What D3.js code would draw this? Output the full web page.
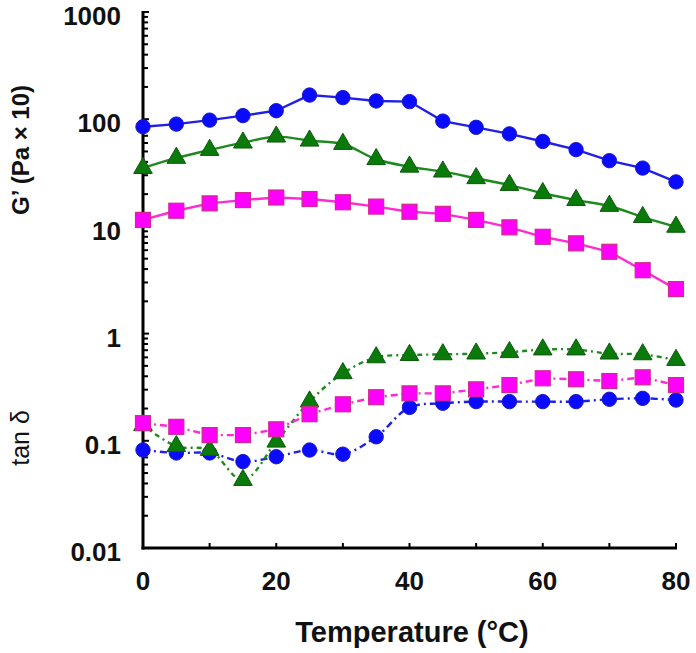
<!DOCTYPE html>
<html>
<head>
<meta charset="utf-8">
<script src="https://cdn.jsdelivr.net/npm/d3@7"></script>
<style>
  html, body { margin: 0; padding: 0; background: #fff; }
  svg { display: block; font-family: "Liberation Sans", Arial, sans-serif; }
</style>
</head>
<body>
<svg id="chart" width="696" height="653"></svg>
<script>
// ---- Data ----
const temperatures = [0, 5, 10, 15, 20, 25, 30, 35, 40, 45, 50, 55, 60, 65, 70, 75, 80];

const gBlue    = [85, 90, 98, 108, 120, 168, 159, 148, 146, 96, 84, 73, 62, 52, 41, 35, 26];
const gGreen   = [35, 43.5, 51.6, 60.4, 68.7, 63, 58.7, 42.3, 36, 32.4, 28.1, 24.3, 20.4, 17.6, 15.5, 12.2, 9.9];
const gMagenta = [11.5, 14, 16.4, 17.6, 18.6, 18.0, 16.8, 15.3, 13.7, 13.1, 11.5, 9.8, 8.0, 6.95, 5.8, 3.9, 2.6];

const tanBlue    = [0.082, 0.077, 0.077, 0.064, 0.071, 0.082, 0.075, 0.109, 0.205, 0.224, 0.232, 0.232, 0.232, 0.232, 0.244, 0.249, 0.24];
const tanGreen   = [0.14, 0.089, 0.082, 0.043, 0.098, 0.232, 0.426, 0.60, 0.63, 0.64, 0.65, 0.67, 0.71, 0.71, 0.65, 0.64, 0.567];
const tanMagenta = [0.146, 0.135, 0.113, 0.113, 0.128, 0.177, 0.219, 0.255, 0.277, 0.277, 0.302, 0.331, 0.383, 0.375, 0.361, 0.391, 0.331];

const xTicks = [0, 20, 40, 60, 80];
const xMinorTicks = [0, 10, 20, 30, 40, 50, 60, 70, 80];
const yTickValues = [0.01, 0.1, 1, 10, 100, 1000];
const yTickLabels = ["0.01", "0.1", "1", "10", "100", "1000"];

// ---- Setup ----
const svg = d3.select("#chart");
const x = d3.scaleLinear().domain([0, 80]).range([143, 676]);
const y = d3.scaleLog().domain([0.01, 1000]).range([548, 12]);

const colors = {
  blue:    { line: "#1f1fe6", fill: "#0a0aff", stroke: "#1a1ac0" },
  green:   { line: "#1e8a1e", fill: "#0a7a0a", stroke: "#0b5a0b" },
  magenta: { line: "#ff2ad4", fill: "#ff00ff", stroke: "#d02a8a" }
};

const series = [
  { vals: gBlue,    c: colors.blue,    shape: "circle",   dash: null, smooth: false },
  { vals: gGreen,   c: colors.green,   shape: "triangle", dash: null, smooth: true },
  { vals: gMagenta, c: colors.magenta, shape: "square",   dash: null, smooth: false },
  { vals: tanBlue,    c: colors.blue,    shape: "circle",   dash: "7,4,2,4", smooth: true },
  { vals: tanGreen,   c: colors.green,   shape: "triangle", dash: "5,4,2,4", smooth: true },
  { vals: tanMagenta, c: colors.magenta, shape: "square",   dash: "7,4,2,4", smooth: false }
];

// ---- Axes ----
const yAxisG = svg.append("g").attr("transform", "translate(143,0)");
const allYTicks = y.ticks(50);
yAxisG.selectAll("line.tk").data(allYTicks).enter().append("line")
  .attr("x1", 0).attr("x2", d => (yTickValues.includes(d) ? 6 : 5))
  .attr("y1", d => y(d)).attr("y2", d => y(d))
  .attr("stroke", "#000").attr("stroke-width", 2);
yAxisG.append("line").attr("x1", 0).attr("x2", 0).attr("y1", y(1000) - 1).attr("y2", y(0.01) + 1.5)
  .attr("stroke", "#000").attr("stroke-width", 3);

svg.append("g").selectAll("text").data(yTickValues).enter().append("text")
  .attr("x", 121).attr("y", d => y(d) + 4)
  .attr("dy", "0.35em")
  .attr("text-anchor", "end")
  .attr("font-size", 26).attr("font-weight", "bold").attr("fill", "#111")
  .text((d, i) => yTickLabels[i]);

const xAxisG = svg.append("g");
xAxisG.selectAll("line.tk").data(xMinorTicks).enter().append("line")
  .attr("x1", d => x(d)).attr("x2", d => x(d))
  .attr("y1", 548).attr("y2", 543)
  .attr("stroke", "#000").attr("stroke-width", 2);
xAxisG.append("line").attr("x1", 141.5).attr("x2", 677).attr("y1", 548).attr("y2", 548)
  .attr("stroke", "#000").attr("stroke-width", 3);

svg.append("g").selectAll("text").data(xTicks).enter().append("text")
  .attr("x", d => x(d)).attr("y", 590)
  .attr("text-anchor", "middle")
  .attr("font-size", 26).attr("font-weight", "bold").attr("fill", "#111")
  .text(d => d);

// Axis titles
svg.append("text").attr("x", 412).attr("y", 642).attr("text-anchor", "middle")
  .attr("font-size", 29).attr("font-weight", "bold").attr("fill", "#111")
  .text("Temperature (°C)");

svg.append("text").attr("transform", "translate(29,150) rotate(-90)")
  .attr("text-anchor", "middle")
  .attr("font-size", 24).attr("font-weight", "bold").attr("fill", "#111")
  .text("G’ (Pa × 10)");

svg.append("text").attr("transform", "translate(29,438) rotate(-90)")
  .attr("text-anchor", "middle")
  .attr("font-size", 25).attr("fill", "#111")
  .text("tan δ");

// ---- Series ----
const plot = svg.append("g");
series.forEach(s => {
  const pts = temperatures.map((t, i) => [t, s.vals[i]]);
  const line = d3.line()
    .x(d => x(d[0])).y(d => y(d[1]))
    .curve(s.smooth ? d3.curveCatmullRom.alpha(0.5) : d3.curveLinear);
  plot.append("path").datum(pts)
    .attr("d", line)
    .attr("fill", "none")
    .attr("stroke", s.c.line)
    .attr("stroke-width", 2.4)
    .attr("stroke-dasharray", s.dash);

  const g = plot.append("g");
  if (s.shape === "circle") {
    g.selectAll("circle").data(pts).enter().append("circle")
      .attr("cx", d => x(d[0])).attr("cy", d => y(d[1])).attr("r", 7.2)
      .attr("fill", s.c.fill).attr("stroke", s.c.stroke).attr("stroke-width", 1);
  } else if (s.shape === "square") {
    g.selectAll("rect").data(pts).enter().append("rect")
      .attr("x", d => x(d[0]) - 7.5).attr("y", d => y(d[1]) - 7.5)
      .attr("width", 15).attr("height", 15)
      .attr("fill", s.c.fill).attr("stroke", s.c.stroke).attr("stroke-width", 1.2);
  } else {
    const tri = d3.symbol().type(d3.symbolTriangle).size(150);
    g.selectAll("path").data(pts).enter().append("path")
      .attr("transform", d => `translate(${x(d[0])},${y(d[1])})`)
      .attr("d", tri)
      .attr("fill", s.c.fill).attr("stroke", s.c.stroke).attr("stroke-width", 1);
  }
});
</script>
</body>
</html>
